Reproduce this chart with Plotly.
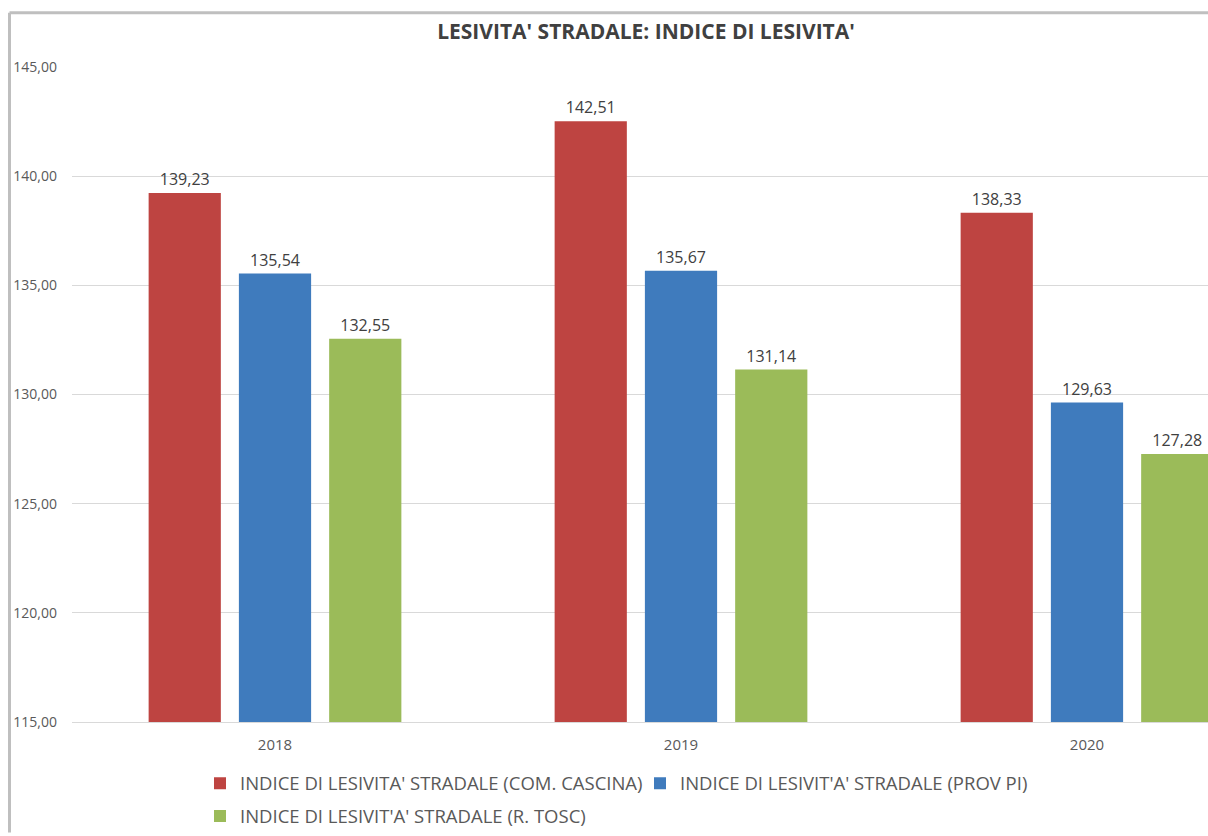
import plotly.graph_objects as go

# data
anni = ["2018", "2019", "2020"]
cascina = [139.23, 142.51, 138.33]
prov_pi = [135.54, 135.67, 129.63]
r_tosc = [132.55, 131.14, 127.28]

nomi = [
    "INDICE DI LESIVITA' STRADALE (COM. CASCINA)",
    "INDICE DI LESIVIT'A' STRADALE (PROV PI)",
    "INDICE DI LESIVIT'A' STRADALE (R. TOSC)",
]
colori = ["#BE4441", "#3F7BBD", "#9BBB59"]

W, H = 1208, 836
L, T, B = 72, 67, 111  # plot area in pixels
pw = W - L
ph = H - T - B


def px_x(px):
    return (px - L) / pw


def px_y(py):
    return (H - B - py) / ph


font = "Open Sans"
fig = go.Figure()
legende = ["legend", "legend", "legend2"]
for nome, vals, col, leg in zip(nomi, [cascina, prov_pi, r_tosc], colori, legende):
    fig.add_trace(go.Bar(
        x=anni, y=vals, name=nome, marker_color=col, marker_line_width=0,
        texttemplate="%{y:.2f}", textposition="outside",
        textfont=dict(size=16, color="#404040", family=font),
        cliponaxis=False, legend=leg,
    ))

# chart frame (cropped excel border)
fig.add_shape(type="line", xref="paper", yref="paper",
              x0=px_x(9.5), x1=px_x(9.5), y0=px_y(H), y1=px_y(12.5),
              line=dict(color="#BFBFBF", width=3))
fig.add_shape(type="line", xref="paper", yref="paper",
              x0=px_x(9.5), x1=px_x(W + 5), y0=px_y(12.5), y1=px_y(12.5),
              line=dict(color="#BFBFBF", width=3))

fig.update_layout(
    width=W, height=H,
    margin=dict(l=L, r=0, t=T, b=B),
    paper_bgcolor="white", plot_bgcolor="white",
    separators=",.",
    barmode="group", bargap=0.333, bargroupgap=0.2,
    title=dict(text="<b>LESIVITA' STRADALE: INDICE DI LESIVITA'</b>",
               x=646 / W, xanchor="center", y=1 - 32 / H, yanchor="middle",
               font=dict(size=21, color="#404040", family=font)),
    font=dict(family=font, color="#595959"),
    xaxis=dict(range=[-0.5, -0.5 + pw / 406], showgrid=False,
               showline=True, linecolor="#D9D9D9", linewidth=1,
               ticks="", ticklabelstandoff=9,
               tickfont=dict(size=15, color="#595959")),
    yaxis=dict(range=[115, 145], dtick=5, tickformat=".2f",
               showgrid=True, gridcolor="#D9D9D9", gridwidth=1,
               zeroline=False, showline=False, ticks="",
               ticklabelstandoff=14,
               tickfont=dict(size=14, color="#595959")),
    legend=dict(orientation="h", x=px_x(200), xanchor="left",
                y=px_y(787), yanchor="middle",
                entrywidth=395, entrywidthmode="pixels",
                font=dict(size=18.5, color="#595959", family=font),
                bgcolor="rgba(0,0,0,0)"),
    legend2=dict(orientation="h", x=px_x(200), xanchor="left",
                 y=px_y(820), yanchor="middle",
                 font=dict(size=18.5, color="#595959", family=font),
                 bgcolor="rgba(0,0,0,0)"),
)

fig.write_html("out.html", config={"displayModeBar": False},
               post_script="document.body.style.margin='0';"
                           "document.body.style.overflow='hidden';")
